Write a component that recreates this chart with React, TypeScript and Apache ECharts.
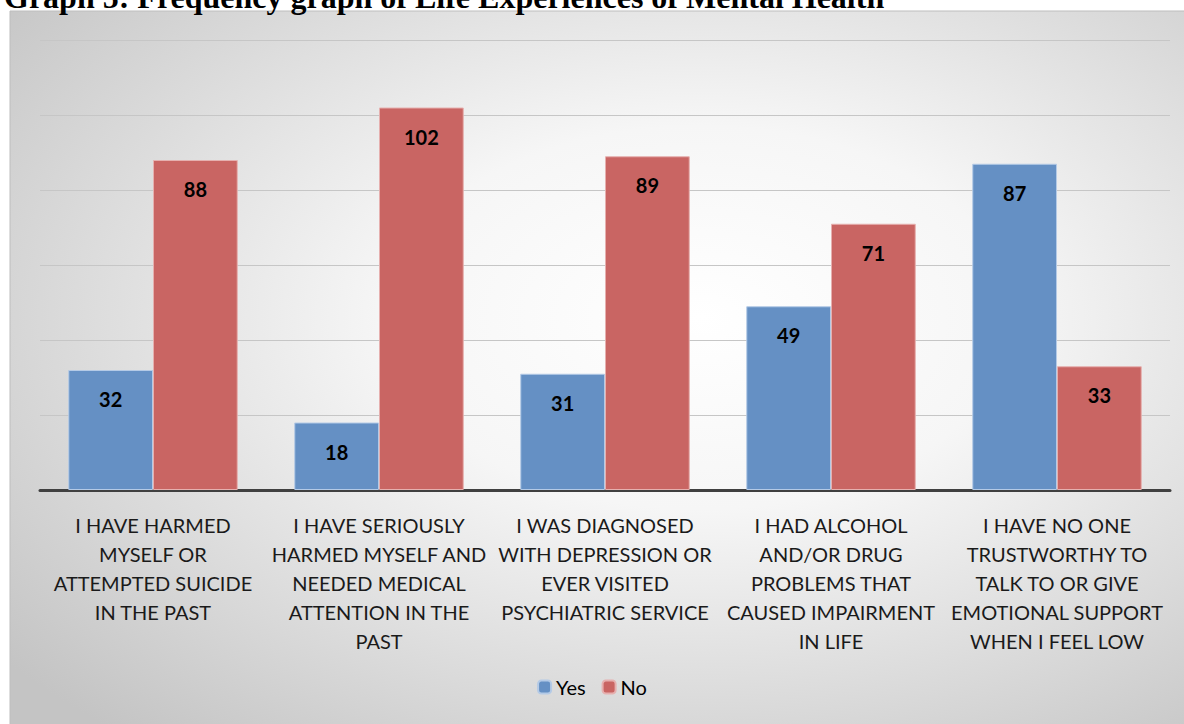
import React, { useEffect, useRef } from "react";
import * as echarts from "echarts";

const categories = [
  "I HAVE HARMED\nMYSELF OR\nATTEMPTED SUICIDE\nIN THE PAST",
  "I HAVE SERIOUSLY\nHARMED MYSELF AND\nNEEDED MEDICAL\nATTENTION IN THE\nPAST",
  "I WAS DIAGNOSED\nWITH DEPRESSION OR\nEVER VISITED\nPSYCHIATRIC SERVICE",
  "I HAD ALCOHOL\nAND/OR DRUG\nPROBLEMS THAT\nCAUSED IMPAIRMENT\nIN LIFE",
  "I HAVE NO ONE\nTRUSTWORTHY TO\nTALK TO OR GIVE\nEMOTIONAL SUPPORT\nWHEN I FEEL LOW",
];
const yesValues = [32, 18, 31, 49, 87];
const noValues = [88, 102, 89, 71, 33];

const TITLE = "Graph 5: Frequency graph of Life Experiences of Mental Health";
const BODY_FONT = "Lato, 'Noto Sans', sans-serif";

export default function App() {
  const ref = useRef<HTMLDivElement>(null);

  useEffect(() => {
    if (!ref.current) return;
    const chart = echarts.init(ref.current, undefined, { renderer: "svg" });

    const labelStyle = {
      show: true,
      position: "insideTop" as const,
      distance: 19,
      color: "#000",
      fontSize: 20,
      fontWeight: "bold" as const,
      fontFamily: BODY_FONT,
    };

    chart.setOption({
      animation: false,
      backgroundColor: "#ffffff",
      graphic: [
        {
          type: "rect",
          z: -10,
          shape: { x: 10, y: 11, width: 1190, height: 730 },
          style: {
            fill: new echarts.graphic.RadialGradient(0.58, 0.42, 0.75, [
              { offset: 0, color: "#ffffff" },
              { offset: 0.35, color: "#f6f6f6" },
              { offset: 1, color: "#c4c4c4" },
            ]),
            stroke: "#bdbdbd",
            lineWidth: 1,
          },
        },
        {
          type: "text",
          left: 4,
          top: -19,
          z: 10,
          style: {
            text: TITLE,
            fill: "#000",
            font: "bold 32px 'Liberation Serif', 'Times New Roman', serif",
          },
        },
      ],
      grid: { left: 40, right: 14, top: 40, bottom: 234 },
      legend: {
        bottom: 22,
        left: "center",
        itemWidth: 13,
        itemHeight: 13,
        itemGap: 16,
        textStyle: { fontSize: 20, color: "#000", fontFamily: BODY_FONT },
        data: ["Yes", "No"],
      },
      xAxis: {
        type: "category",
        data: categories,
        axisLine: { lineStyle: { color: "#404040", width: 3 } },
        axisTick: { show: false },
        axisLabel: {
          interval: 0,
          margin: 20,
          fontSize: 20,
          lineHeight: 29,
          color: "#1a1a1a",
          fontFamily: BODY_FONT,
        },
      },
      yAxis: {
        type: "value",
        min: 0,
        max: 120,
        interval: 20,
        axisLabel: { show: false },
        axisLine: { show: false },
        axisTick: { show: false },
        splitLine: { lineStyle: { color: "#c6c6c6", width: 1 } },
      },
      series: [
        {
          name: "Yes",
          type: "bar",
          data: yesValues,
          barGap: "0%",
          barCategoryGap: "25%",
          itemStyle: {
            color: "#6590c4",
            borderColor: "#b4cae6",
            borderWidth: 1,
          },
          label: labelStyle,
        },
        {
          name: "No",
          type: "bar",
          data: noValues,
          barGap: "0%",
          barCategoryGap: "25%",
          itemStyle: {
            color: "#c96563",
            borderColor: "#e6b0af",
            borderWidth: 1,
          },
          label: labelStyle,
        },
      ],
    });

    return () => chart.dispose();
  }, []);

  return (
    <div
      ref={ref}
      style={{ position: "fixed", left: 0, top: 0, width: 1184, height: 724 }}
    />
  );
}
